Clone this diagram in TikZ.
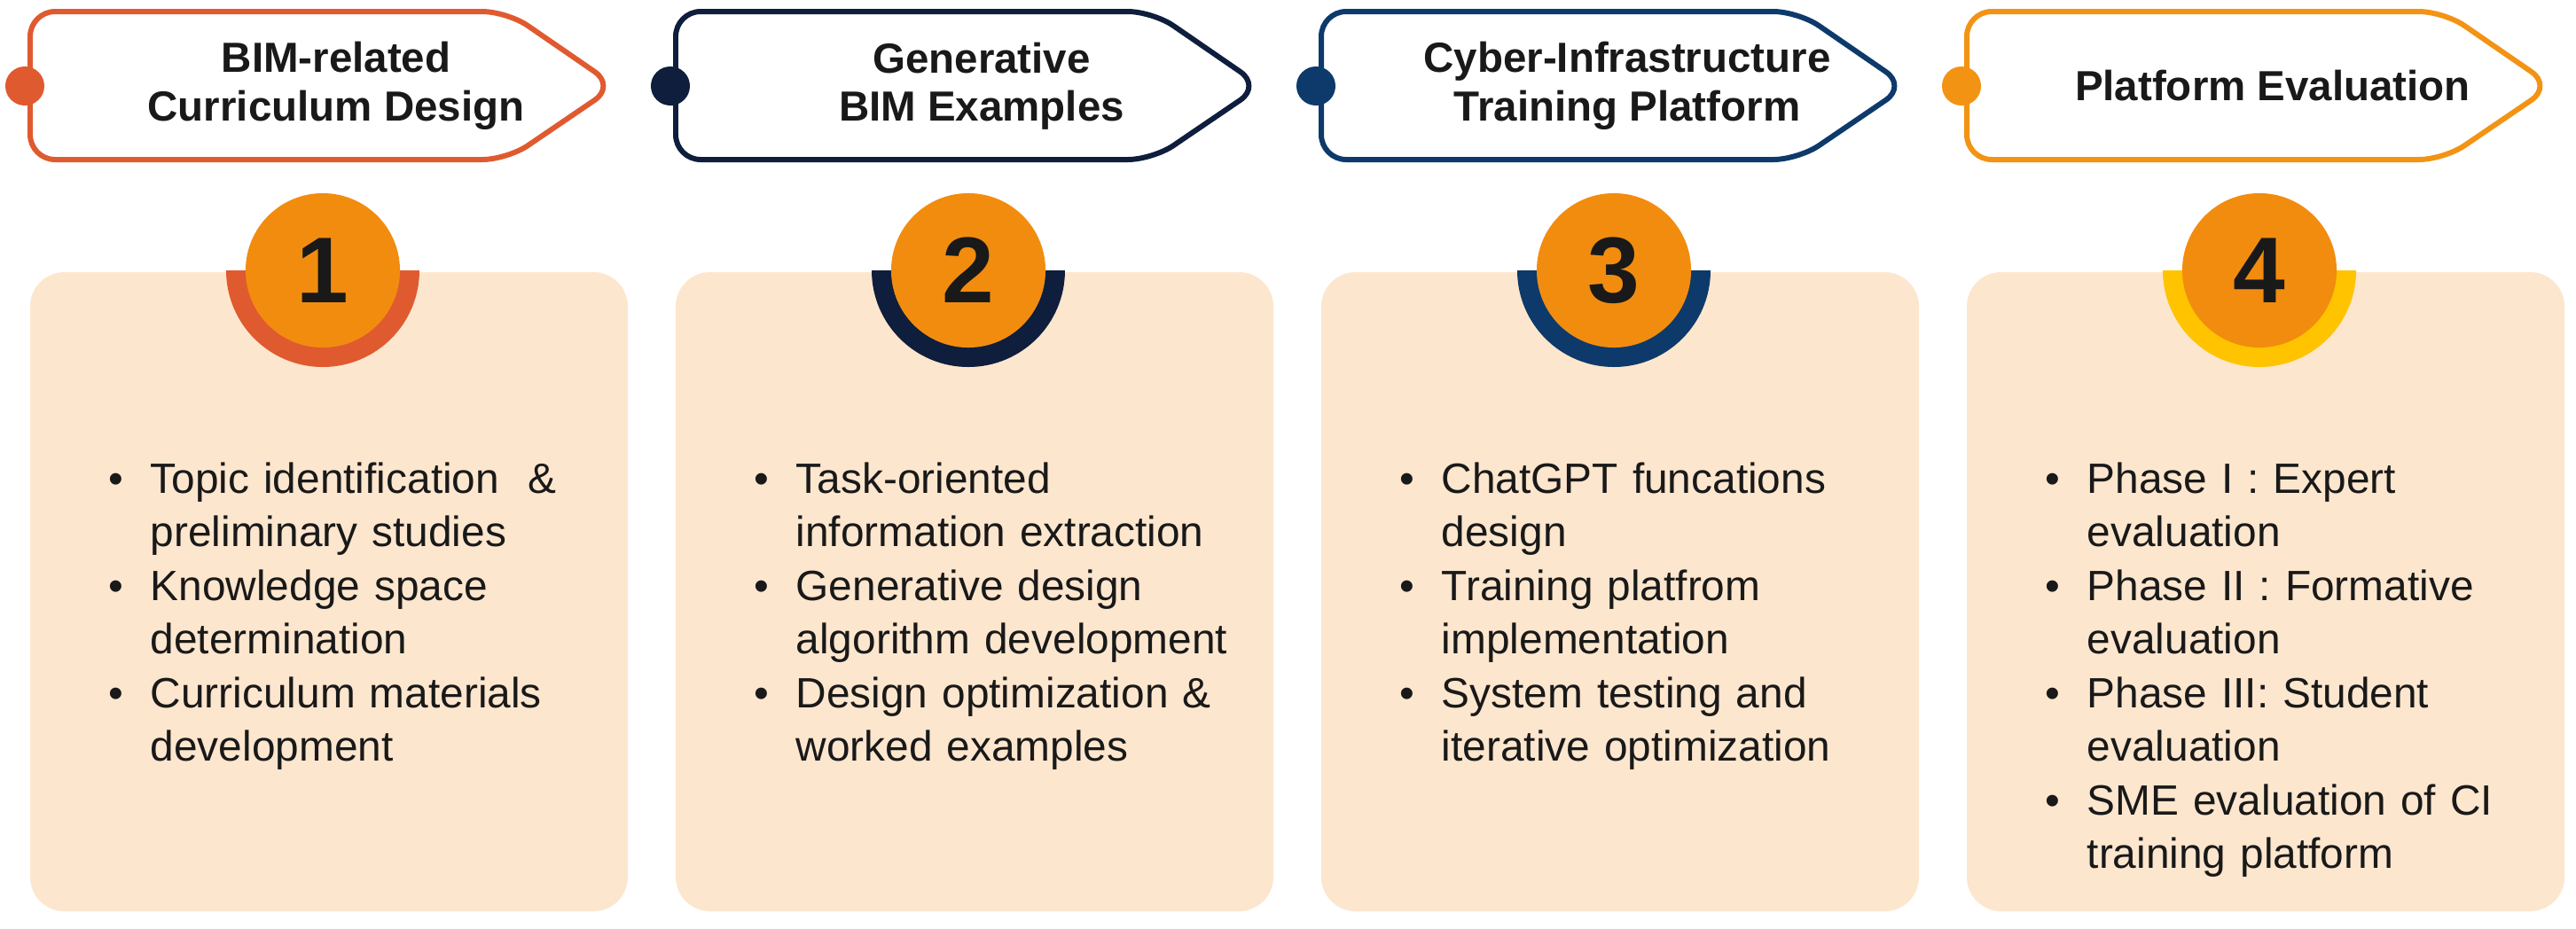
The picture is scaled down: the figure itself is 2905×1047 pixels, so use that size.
\documentclass[tikz,border=0pt]{standalone}
\usepackage{fontspec}
\setmainfont{Liberation Sans}
\usepackage{enumitem}
\usepackage{xcolor}
\definecolor{tagA}{HTML}{E05A2F}
\definecolor{tagB}{HTML}{0E1E3C}
\definecolor{tagC}{HTML}{0D3A6B}
\definecolor{tagD}{HTML}{F39314}
\definecolor{ringD}{HTML}{FFC300}
\definecolor{numfill}{HTML}{F28C0F}
\definecolor{boxfill}{HTML}{FDE6CE}
\tikzstyle{tag} = [line width=1.7pt, fill=white, rounded corners=8pt]
\tikzstyle{title} = [font=\fontsize{13.5}{15.5}\selectfont\bfseries, align=center, text=black!90]
\tikzstyle{panel} = [fill=boxfill, rounded corners=11pt]
\tikzstyle{num} = [circle, fill=numfill, minimum size=1.74cm, inner sep=0pt, font=\fontsize{30}{30}\selectfont\bfseries, text=black!90]
\tikzstyle{items} = [anchor=north west, text width=6cm, font=\fontsize{13.6}{17.2}\selectfont, text=black!90, inner sep=0pt]
\setlist[itemize]{leftmargin=0.55cm, labelsep=0.3cm, itemsep=0pt, topsep=0pt, parsep=0pt, label=\textbullet}

\begin{document}
\begin{tikzpicture}[x=0.01cm, y=-0.01cm]
	\useasboundingbox (0,0) rectangle (2905,1047);
	\foreach \L/\c/\rc/\n/\t/\b in {
		34/tagA/tagA/1/{BIM-related\\Curriculum Design}/{\item Topic identification \ \&\newline preliminary studies \item Knowledge space\newline determination \item Curriculum materials\newline development},
		762/tagB/tagB/2/{Generative\\BIM Examples}/{\item Task-oriented\newline information extraction \item Generative design\newline algorithm development \item Design optimization \&\newline worked examples},
		1490/tagC/tagC/3/{Cyber-Infrastructure\\Training Platform}/{\item ChatGPT funcations\newline design \item Training platfrom\newline implementation \item System testing and\newline iterative optimization},
		2218/tagD/ringD/4/{Platform Evaluation}/{\item Phase I : Expert\newline evaluation \item Phase II : Formative\newline evaluation \item Phase III: Student\newline evaluation \item SME evaluation of CI\newline training platform}}{
		%Header tag
		\draw[tag, draw=\c] (\L,13) -- ++(538,0) -- ++(122,84) -- ++(-122,83) -- ++(-538,0) -- cycle;
		\node[circle, fill=\c, minimum size=0.44cm, inner sep=0pt] (dot\n) at (\L-6,97) {};
		\node[title] (title\n) at (\L+345,97) {\t};
		%Panel
		\fill[panel] (\L,307) rectangle ++(674,721);
		\begin{scope}
			\clip (\L,305) rectangle ++(674,200);
			\fill[\rc] (\L+330,305) circle[radius=109];
		\end{scope}
		\node[num] (num\n) at (\L+330,305) {\n};
		\node[items] (items\n) at (\L+80,495) {\begin{itemize}\b\end{itemize}};
	}
\end{tikzpicture}
\end{document}
